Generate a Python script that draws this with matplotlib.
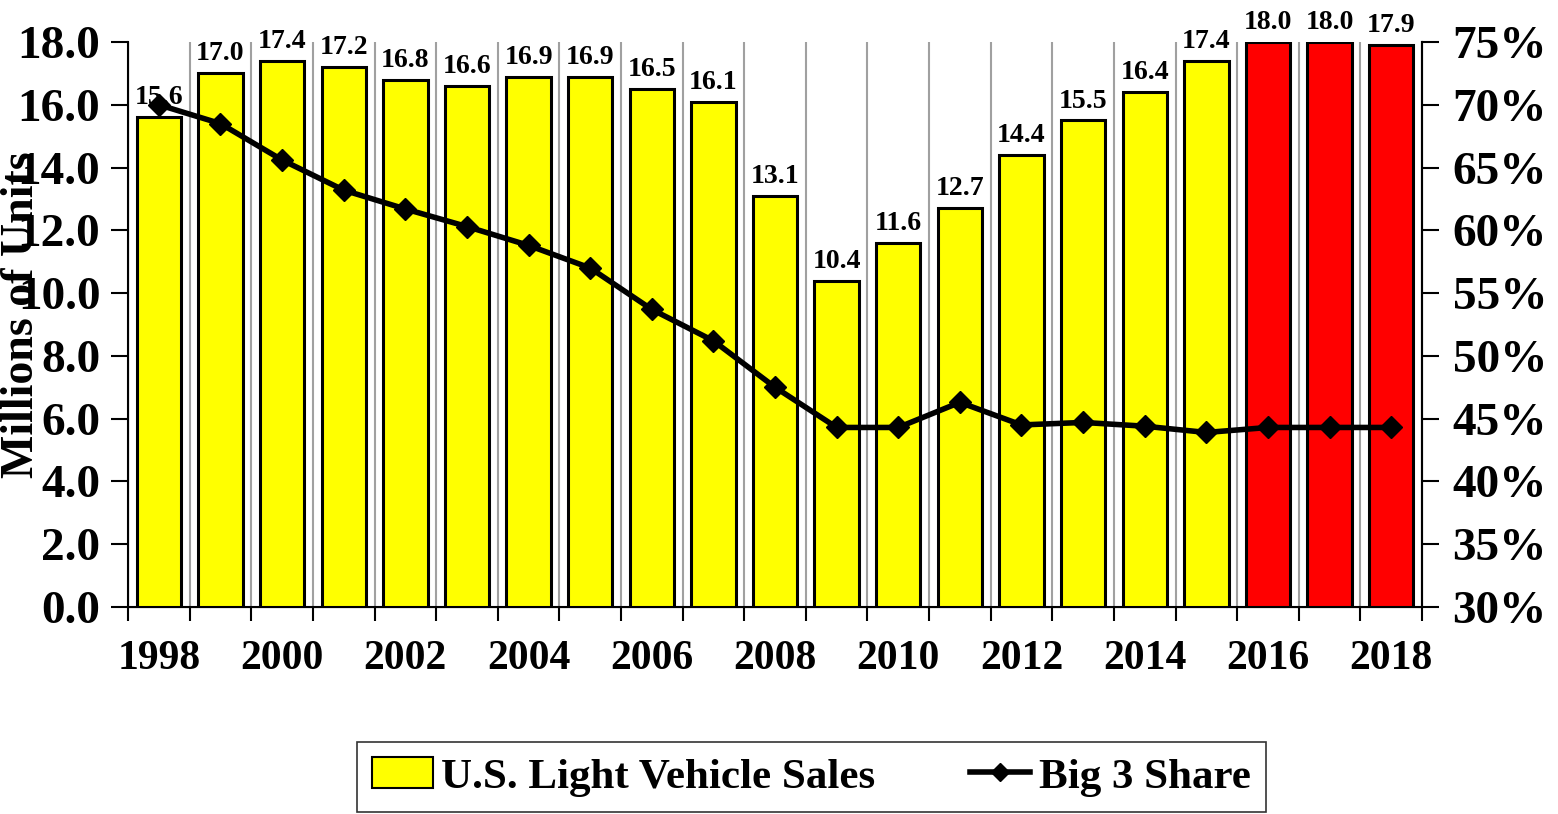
import numpy as np
import matplotlib.pyplot as plt
from matplotlib.patches import Patch
from matplotlib.lines import Line2D

plt.rcParams['font.family'] = ['Liberation Serif', 'DejaVu Serif']
plt.rcParams['font.weight'] = 'bold'

years = list(range(1998, 2019))
sales = [15.6, 17.0, 17.4, 17.2, 16.8, 16.6, 16.9, 16.9, 16.5, 16.1, 13.1,
         10.4, 11.6, 12.7, 14.4, 15.5, 16.4, 17.4, 18.0, 18.0, 17.9]
share = [70.0, 68.5, 65.6, 63.2, 61.7, 60.3, 58.8, 57.0, 53.7, 51.2, 47.5,
         44.3, 44.3, 46.3, 44.5, 44.7, 44.4, 43.9, 44.3, 44.3, 44.3]
forecast_from = 2016

fig = plt.figure(figsize=(15.58, 8.14), dpi=100)
ax = fig.add_axes([0.0822, 0.2543, 0.9127 - 0.0822, 0.9484 - 0.2543])

x = np.arange(len(years))
cols = ["#ff0000" if y >= forecast_from else "#ffff00" for y in years]
ax.bar(x, sales, width=0.72, color=cols, edgecolor="black", linewidth=2.2, zorder=3)

for xi, v in zip(x, sales):
    ax.text(xi, v + 0.22, "%.1f" % v, ha="center", va="bottom", fontsize=20,
            fontweight="bold", clip_on=False, zorder=5)

# gray separators between categories
for b in np.arange(-0.5, len(years) + 0.5, 1.0)[1:-1]:
    ax.axvline(b, color="#a0a0a0", linewidth=1.5, zorder=1)

ax.set_xlim(-0.5, len(years) - 0.5)
ax.set_ylim(0, 18)
ax.set_yticks(np.arange(0, 18.1, 2))
ax.set_yticklabels(["%.1f" % v for v in np.arange(0, 18.1, 2)], fontsize=34, fontweight="bold")
ax.tick_params(axis="y", direction="out", length=12, width=1.5, pad=8)

ax.set_xticks(np.arange(-0.5, len(years) + 0.5, 1.0))
ax.set_xticklabels([])
ax.tick_params(axis="x", which="major", direction="out", length=10, width=1.5)
ax.set_xticks(x[::2], minor=True)
ax.set_xticklabels([str(y) for y in years[::2]], minor=True, fontsize=30, fontweight="bold")
ax.tick_params(axis="x", which="minor", length=0, pad=24)

ax.spines["top"].set_visible(False)
for s in ["left", "bottom", "right"]:
    ax.spines[s].set_linewidth(1.5)

ax2 = ax.twinx()
ax2.plot(x, share, color="black", linewidth=4, marker="D", markersize=11, zorder=6)
ax2.set_ylim(30, 75)
ax2.set_yticks(range(30, 76, 5))
ax2.set_yticklabels(["%d%%" % v for v in range(30, 76, 5)], fontsize=34, fontweight="bold")
ax2.tick_params(axis="y", direction="out", length=12, width=1.5, pad=10)
ax2.spines["top"].set_visible(False)
ax2.spines["right"].set_linewidth(1.5)

fig.text(22 / 1558, 1 - 315 / 814, "Millions of Units", rotation=90, ha="center",
         va="center", fontsize=33, fontweight="bold")

handles = [Patch(facecolor="#ffff00", edgecolor="black", linewidth=1.5),
           Line2D([], [], color="black", linewidth=4, marker="D", markersize=9)]
leg = fig.legend(handles, ["U.S. Light Vehicle Sales", "Big 3 Share"], loc="center",
                 bbox_to_anchor=(0.521, 0.0455), ncol=2, frameon=True,
                 fancybox=False, edgecolor="black", handlelength=1.4, handletextpad=0.2,
                 columnspacing=2.2, borderpad=0.35, borderaxespad=0,
                 prop={"weight": "bold", "size": 31})
leg.get_frame().set_linewidth(1.2)

fig.savefig("out.png", dpi=100)
